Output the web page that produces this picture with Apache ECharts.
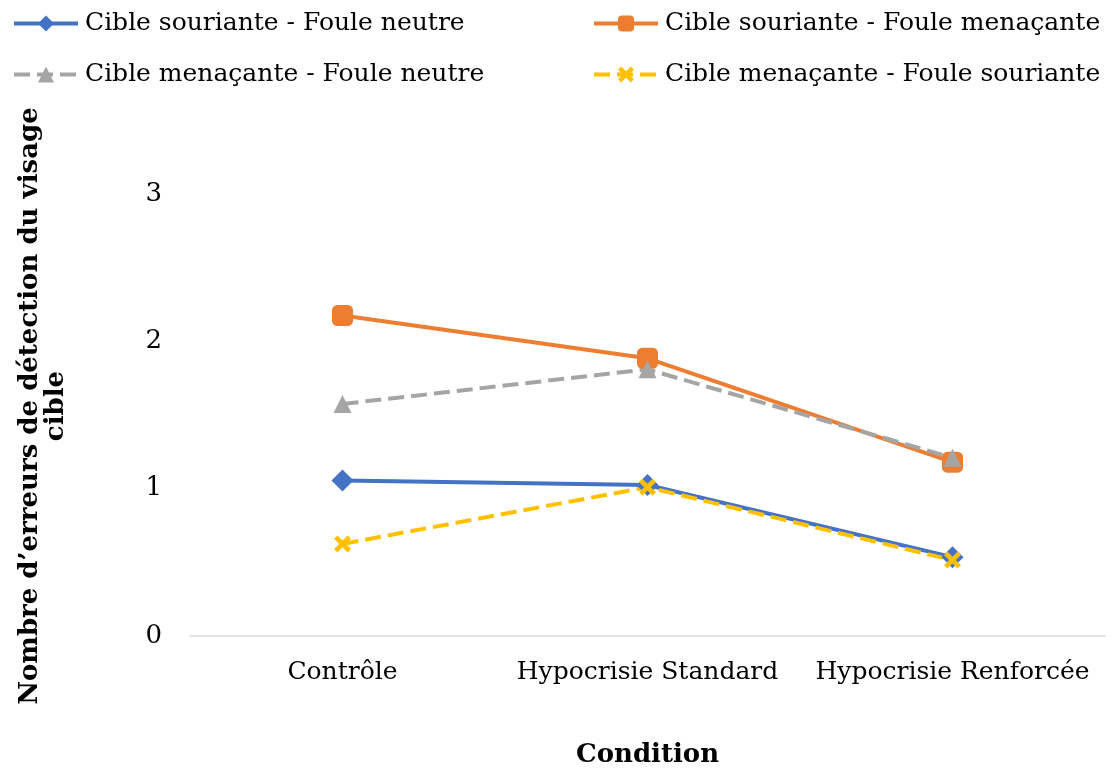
<!DOCTYPE html>
<html lang="fr">
<head>
    <meta charset="UTF-8">
    <title>Erreurs de détection</title>
    <script src="https://cdn.jsdelivr.net/npm/echarts@6.0.0/dist/echarts.min.js"></script>
    <style>
        html, body { margin: 0; padding: 0; background: #fff; }
        #viz { width: 1115px; height: 769px; }
    </style>
</head>
<body>
    <div id="viz"></div>
    <script>
        const categories = ['Contrôle', 'Hypocrisie Standard', 'Hypocrisie Renforcée'];
        const seriesNames = [
            'Cible souriante - Foule neutre',
            'Cible souriante - Foule menaçante',
            'Cible menaçante - Foule neutre',
            'Cible menaçante - Foule souriante'
        ];
        const souriantNeutre = [1.055, 1.025, 0.535];
        const souriantMenacante = [2.175, 1.885, 1.18];
        const menacantNeutre = [1.575, 1.81, 1.21];
        const menacantSouriante = [0.625, 1.01, 0.515];
        const yTicks = [0, 1, 2, 3];

        const font = '"DejaVu Serif", Georgia, serif';
        const crossPath = 'path://M0,2L2,0L5,3L8,0L10,2L7,5L10,8L8,10L5,7L2,10L0,8L3,5Z';

        const mkSeries = (name, data, color, symbol, size, dashed) => ({
            name,
            type: 'line',
            data,
            symbol,
            symbolSize: size,
            showAllSymbol: true,
            lineStyle: { color, width: 4, type: dashed ? [16, 7] : 'solid' },
            itemStyle: { color, borderColor: color, borderWidth: 0 },
            emphasis: { disabled: true }
        });

        const legendBase = {
            orient: 'vertical',
            top: 6,
            itemWidth: 64,
            itemHeight: 20,
            itemGap: 26,
            lineStyle: { width: 4 },
            textStyle: { fontFamily: font, fontSize: 25, color: '#000', padding: [0, 0, 0, 2] }
        };

        const option = {
            animation: false,
            textStyle: { fontFamily: font },
            legend: [
                Object.assign({}, legendBase, { left: 7, data: [seriesNames[0], seriesNames[2]] }),
                Object.assign({}, legendBase, { left: 587, data: [seriesNames[1], seriesNames[3]] })
            ],
            grid: { left: 190, right: 10, top: 194, bottom: 133, containLabel: false, outerBoundsMode: 'none' },
            xAxis: {
                type: 'category',
                data: categories,
                boundaryGap: true,
                name: 'Condition',
                nameLocation: 'middle',
                nameGap: 106,
                nameTextStyle: { fontFamily: font, fontSize: 26, fontWeight: 'bold', color: '#000' },
                axisLine: { lineStyle: { color: '#d9d9d9', width: 1.5 } },
                axisTick: { show: false },
                axisLabel: { fontFamily: font, fontSize: 25, color: '#000', margin: 24, interval: 0 }
            },
            yAxis: {
                type: 'value',
                min: yTicks[0],
                max: yTicks[yTicks.length - 1],
                interval: 1,
                name: 'Nombre d\u2019erreurs de détection du visage\ncible',
                nameLocation: 'middle',
                nameGap: 121,
                nameTextStyle: {
                    fontFamily: font, fontSize: 26, fontWeight: 'bold', color: '#000',
                    lineHeight: 26, padding: [0, 0, 0, 18]
                },
                axisLine: { show: false },
                axisTick: { show: false },
                splitLine: { show: false },
                axisLabel: { fontFamily: font, fontSize: 26, color: '#000', margin: 28 }
            },
            series: [
                mkSeries(seriesNames[0], souriantNeutre, '#4472c4', 'diamond', 22, false),
                mkSeries(seriesNames[1], souriantMenacante, '#ed7d31', 'roundRect', 21, false),
                mkSeries(seriesNames[2], menacantNeutre, '#a5a5a5', 'triangle', 18, true),
                mkSeries(seriesNames[3], menacantSouriante, '#ffc000', crossPath, 17, true)
            ]
        };

        const chart = echarts.init(document.getElementById('viz'), null, { renderer: 'canvas' });
        chart.setOption(option);
        window.onresize = () => chart.resize();
    </script>
</body>
</html>
